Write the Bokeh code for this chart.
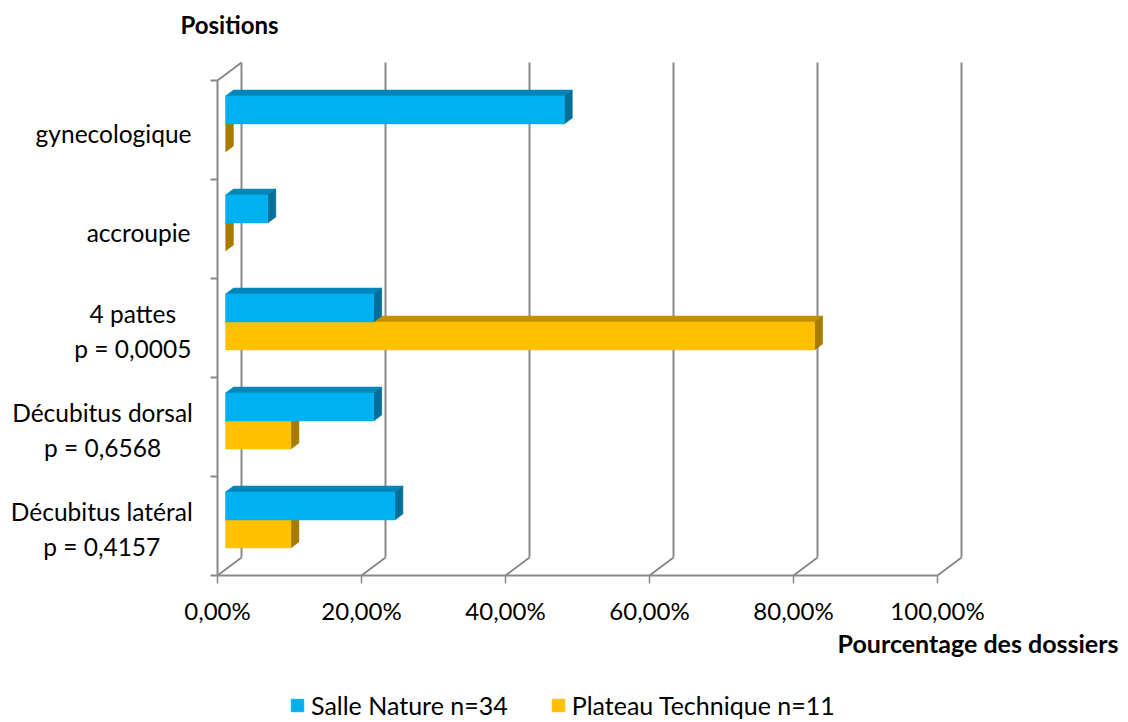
from bokeh.plotting import figure
from bokeh.models import Range1d, Legend, LegendItem
from bokeh.core.properties import value
from bokeh.embed import file_html
from bokeh.resources import INLINE

# ---------------- data ----------------
positions = ["Décubitus latéral", "Décubitus dorsal", "4 pattes", "accroupie", "gynecologique"]
p_values = ["p = 0,4157", "p = 0,6568", "p = 0,0005", "", ""]
salle_nature = [23.53, 20.59, 20.59, 5.88, 47.06]        # % Salle Nature n=34
plateau_technique = [9.09, 9.09, 81.82, 0.0, 0.0]       # % Plateau Technique n=11
x_ticks = [0, 20, 40, 60, 80, 100]
x_tick_labels = ["0,00%", "20,00%", "40,00%", "60,00%", "80,00%", "100,00%"]
series_names = ["Salle Nature n=34", "Plateau Technique n=11"]
y_title = "Positions"
x_title = "Pourcentage des dossiers"

# ---------------- style / geometry ----------------
FONT = "Lato"
FS = "24px"
CAT_FS = 24.5
GRAY = "#898989"
BLUE = ("#00B0F0", "#0086B8", "#006F99")     # front, top, side
GOLD = ("#FFC000", "#C29100", "#A67C00")
FRAME_W, FRAME_H = 1120, 720
PX_PER_PCT = 7.2          # pixels per percent
PX_PER_CAT = 99.0         # pixels per category band
ORIGIN_X_PX = 217         # 0% from frame left
ORIGIN_Y_PX = 145         # baseline above frame bottom
DEPTH_X_PX, DEPTH_Y_PX = 24.0, 18.0
BAR_H = 28.0 / PX_PER_CAT
D0, D1 = 1.0 / 3.0, 2.0 / 3.0
N = len(positions)
XMAX = x_ticks[-1]

dxp = DEPTH_X_PX / PX_PER_PCT
dyc = DEPTH_Y_PX / PX_PER_CAT


def proj(x, y, d):
    return x + d * dxp, y + d * dyc


x_start = -ORIGIN_X_PX / PX_PER_PCT
y_start = -ORIGIN_Y_PX / PX_PER_CAT

p = figure(frame_width=FRAME_W, frame_height=FRAME_H,
           x_range=Range1d(x_start, x_start + FRAME_W / PX_PER_PCT),
           y_range=Range1d(y_start, y_start + FRAME_H / PX_PER_CAT),
           x_axis_location=None, y_axis_location=None,
           output_backend="svg", toolbar_location=None,
           min_border_left=0, min_border_right=0, min_border_top=0,
           min_border_bottom=0)
p.outline_line_color = None
p.grid.visible = False
p.background_fill_color = "white"

# ---------------- walls & ticks ----------------
x0s, y0s, x1s, y1s = [], [], [], []


def seg(a, b):
    x0s.append(a[0]); y0s.append(a[1]); x1s.append(b[0]); y1s.append(b[1])


for t in x_ticks:
    seg(proj(t, 0, 1), proj(t, N, 1))      # back wall gridline
    seg(proj(t, 0, 0), proj(t, 0, 1))      # floor diagonal
seg(proj(0, 0, 0), proj(XMAX, 0, 0))        # front baseline
seg(proj(0, 0, 0), proj(0, N, 0))           # left wall front edge
seg(proj(0, N, 0), proj(0, N, 1))           # left wall top edge
tick_len = 7.0 / PX_PER_PCT
for k in range(N + 1):
    seg((-tick_len, k), (0, k))
p.segment(x0s, y0s, x1s, y1s, line_color=GRAY, line_width=2)

# x-axis tick marks
xt_len = 8.0 / PX_PER_CAT
p.segment(x_ticks, [0] * len(x_ticks), x_ticks, [-xt_len] * len(x_ticks),
          line_color=GRAY, line_width=1.5)

# ---------------- bars ----------------


def faces(vals, lower):
    front, top, side = ([], []), ([], []), ([], [])
    for i, v in enumerate(vals):
        yc = i + 0.5
        ya, yb = (yc - BAR_H, yc) if lower else (yc, yc + BAR_H)
        for face, pts in ((front, [(0, ya, D0), (v, ya, D0), (v, yb, D0), (0, yb, D0)]),
                          (top, [(0, yb, D0), (v, yb, D0), (v, yb, D1), (0, yb, D1)]),
                          (side, [(v, ya, D0), (v, yb, D0), (v, yb, D1), (v, ya, D1)])):
            pp = [proj(*q) for q in pts]
            face[0].append([q[0] for q in pp])
            face[1].append([q[1] for q in pp])
    return front, top, side


renderers = {}
for name, vals, cols, lower in ((series_names[1], plateau_technique, GOLD, True),
                                (series_names[0], salle_nature, BLUE, False)):
    front, top, side = faces(vals, lower)
    p.patches(top[0], top[1], fill_color=cols[1], line_color=cols[1], line_width=0.5)
    p.patches(side[0], side[1], fill_color=cols[2], line_color=cols[2], line_width=0.5)
    renderers[name] = p.patches(front[0], front[1], fill_color=cols[0],
                                line_color=cols[0], line_width=0.5)

# ---------------- category labels ----------------
W = {"a": .47, "b": .55, "c": .46, "d": .55, "e": .515, "é": .515, "g": .50, "i": .23,
     "l": .23, "n": .55, "o": .55, "p": .55, "q": .55, "r": .37, "s": .41, "t": .36,
     "u": .55, "y": .50, "D": .70, " ": .193, ",": .21, "=": .58}


def est_w(s):
    return sum(W.get(c, .58) for c in s) * CAT_FS


label_right_px = -28.0
lx, ly, lt = [], [], []
for i in range(N):
    lines = [positions[i]] + ([p_values[i]] if p_values[i] else [])
    w = max(est_w(s) for s in lines)
    lx.append((label_right_px - w / 2) / PX_PER_PCT)
    ly.append(i + 0.5)
    lt.append("\n".join(lines))
p.text(x=lx, y=ly, text=lt, text_font=value(FONT), text_font_size=f"{CAT_FS}px",
       text_align="center", text_baseline="middle", text_color="black",
       text_line_height=1.2, y_offset=3)

# y title
tx, ty = proj(0, N, 0.5)
p.text(x=[tx], y=[ty], text=[y_title], text_font=value(FONT), text_font_size=FS,
       text_font_style="bold", text_align="center", text_baseline="middle",
       text_color="black", y_offset=-47)

# x tick labels
p.text(x=x_ticks, y=[0] * len(x_ticks), text=x_tick_labels, text_font=value(FONT),
       text_font_size=FS, text_align="center", text_baseline="middle",
       text_color="black", y_offset=35)

# x title
p.text(x=[XMAX], y=[0], text=[x_title], text_font=value(FONT), text_font_size="25px",
       text_font_style="bold", text_align="right", text_baseline="middle",
       text_color="black", x_offset=181, y_offset=67)

# ---------------- legend ----------------
legend = Legend(items=[LegendItem(label=series_names[0], renderers=[renderers[series_names[0]]]),
                       LegendItem(label=series_names[1], renderers=[renderers[series_names[1]]])],
                orientation="horizontal", location=(289, 0), glyph_width=16, glyph_height=16,
                label_standoff=6, spacing=42, border_line_color=None, label_height=24,
                background_fill_alpha=0, padding=0, margin=0,
                label_text_font=FONT, label_text_font_size="25px", label_text_color="black")
p.add_layout(legend, "center")

open("out.html", "w").write(file_html(p, INLINE))
